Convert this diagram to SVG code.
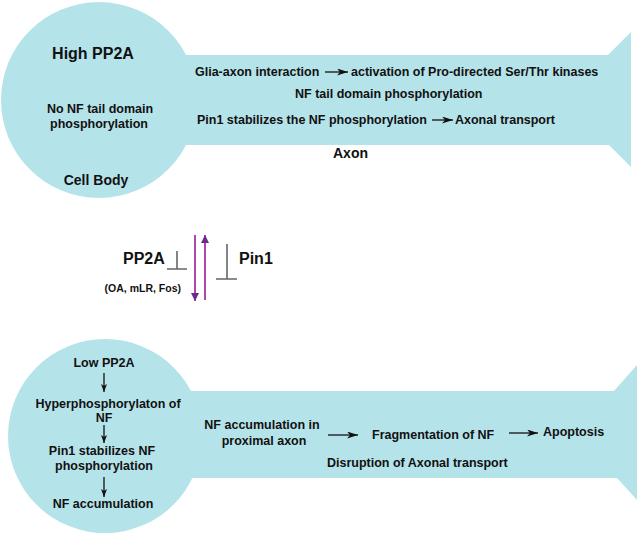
<svg xmlns="http://www.w3.org/2000/svg" width="640" height="534" viewBox="0 0 640 534">
<style>
.cell{fill:#b5e3ea;stroke:none}
text{font-family:"Liberation Sans",Arial,sans-serif;font-weight:bold;fill:#111}
.s{font-size:12.5px}
.m{font-size:14px}
.l{font-size:16px}
.xs{font-size:10.5px}
.c{text-anchor:middle}
.arr{stroke:#111;stroke-width:1.3;fill:none;marker-end:url(#ah)}
.darr{stroke:#111;stroke-width:1.3;fill:none;marker-end:url(#ahs)}
.tbar{stroke:#666;stroke-width:1.6;fill:none}
.purp{stroke:#b046b0;stroke-width:2;fill:none;marker-end:url(#ph)}
</style>
<defs>
<marker id="ah" markerUnits="userSpaceOnUse" markerWidth="12" markerHeight="8" refX="11" refY="3.5" orient="auto">
<path d="M0,0 L11,3.5 L0,7 L3,3.5 z" fill="#111"/>
</marker>
<marker id="ahs" markerUnits="userSpaceOnUse" markerWidth="10" markerHeight="8" refX="8" refY="3" orient="auto">
<path d="M0,0 L8,3 L0,6 L2,3 z" fill="#111"/>
</marker>
<marker id="ph" markerUnits="userSpaceOnUse" markerWidth="10" markerHeight="10" refX="8" refY="4" orient="auto">
<path d="M0,0 L8,4 L0,8 z" fill="#6a2c8a"/>
</marker>
</defs>

<g id="top-neuron">
<circle class="cell" cx="99" cy="100" r="98"/>
<path class="cell" d="M180,55 L608,55 L631,32 L631,167 L609,145 L180,145 z"/>
<text class="l c" x="93" y="59">High PP2A</text>
<text class="s c" x="100" y="113">No NF tail domain</text>
<text class="s c" x="99" y="128">phosphorylation</text>
<text class="m c" x="96" y="185">Cell Body</text>
<text class="s" x="195" y="76">Glia-axon interaction</text>
<text class="s" x="351" y="76">activation of Pro-directed Ser/Thr kinases</text>
<text class="s" x="295" y="98">NF tail domain phosphorylation</text>
<text class="s" x="197" y="124">Pin1 stabilizes the NF phosphorylation</text>
<text class="s" x="455" y="124">Axonal transport</text>
<text class="m" x="333" y="158">Axon</text>
</g>

<g id="regulators">
<text class="l" x="123" y="264">PP2A</text>
<text class="xs" x="181" y="292" text-anchor="end">(OA, mLR, Fos)</text>
<text class="l" x="239" y="264">Pin1</text>
</g>

<g id="bottom-neuron">
<circle class="cell" cx="105" cy="436" r="97"/>
<path class="cell" d="M185,391 L614,391 L637,365 L637,500 L617,478 L185,478 z"/>
<text class="s c" x="104" y="367">Low PP2A</text>
<text class="s c" x="108" y="408">Hyperphosphorylaton of</text>
<text class="s c" x="104" y="422">NF</text>
<text class="s c" x="102" y="455">Pin1 stabilizes NF</text>
<text class="s c" x="104" y="470">phosphorylation</text>
<text class="s c" x="103" y="508">NF accumulation</text>
<text class="s c" x="262" y="429">NF accumulation in</text>
<text class="s c" x="264" y="445">proximal axon</text>
<text class="s" x="372" y="439">Fragmentation of NF</text>
<text class="s" x="543" y="436">Apoptosis</text>
<text class="s" x="327" y="467">Disruption of Axonal transport</text>
</g>

<g id="connectors">
<line class="arr" x1="325" y1="72" x2="348" y2="72"/>
<line class="arr" x1="432" y1="120" x2="453" y2="120"/>
<line class="darr" x1="104" y1="373" x2="104" y2="392"/>
<line class="darr" x1="104" y1="425" x2="104" y2="443"/>
<line class="darr" x1="104" y1="477" x2="104" y2="497"/>
<line class="arr" x1="328" y1="435" x2="358" y2="435"/>
<line class="arr" x1="509" y1="433" x2="538" y2="433"/>
<path class="tbar" d="M177,251 V269 M167,269 H187"/>
<path class="tbar" d="M227,244 V279 M216,279 H237"/>
<line class="purp" x1="195" y1="235" x2="195" y2="301"/>
<line class="purp" x1="205" y1="300" x2="205" y2="235"/>
</g>
</svg>
